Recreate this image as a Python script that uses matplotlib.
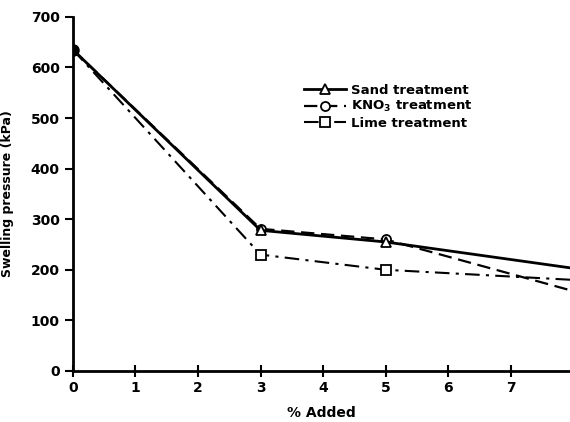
import matplotlib
matplotlib.use("Agg")
import matplotlib.pyplot as plt

# values
pct_added = [0, 3, 5, 8]
sand = [635, 278, 255, 203]
kno3 = [635, 281, 260, 158]
lime = [635, 230, 200, 180]

plt.rcParams['font.family'] = ['DejaVu Sans']
plt.rcParams['font.weight'] = 'bold'

fig = plt.figure(figsize=(5.7, 4.22), dpi=100)
ax = fig.add_axes([0.128, 0.121, 0.872, 0.839])

mk = dict(markersize=6.5, markerfacecolor='white', markeredgecolor='black',
          markeredgewidth=1.3, markevery=[1, 2])
ax.plot(pct_added, sand, '-', color='black', lw=2, marker='^',
        label='Sand treatment', zorder=4, **mk)
ax.plot(pct_added, kno3, color='black', lw=1.6, ls=(0, (6, 3)), marker='o',
        label='KNO$_3$ treatment', zorder=3, **mk)
ax.plot(pct_added, lime, color='black', lw=1.5, ls=(0, (7, 3, 1.5, 3)), marker='s',
        label='Lime treatment', zorder=3, **mk)
ax.plot(pct_added[0], sand[0], 'o', color='black', markersize=8, zorder=5)

ax.set_xlim(0, 7.95)
ax.set_ylim(0, 700)
ax.set_xticks(range(0, 8))
ax.set_yticks(range(0, 701, 100))

for s in ['top', 'right']:
    ax.spines[s].set_visible(False)
for s in ['left', 'bottom']:
    ax.spines[s].set_linewidth(2)
ax.tick_params(axis='both', width=1.5, length=6, labelsize=10)
ax.tick_params(axis='x', direction='inout', length=8)

ax.set_xlabel('% Added', fontsize=10, fontweight='bold', labelpad=8)
ax.set_ylabel('Swelling pressure (kPa)', fontsize=9, fontweight='bold', labelpad=12)

leg = ax.legend(loc='upper left', bbox_to_anchor=(0.44, 0.845), frameon=False,
                fontsize=9.5, handlelength=3.2, labelspacing=0.2, handletextpad=0.4)

fig.savefig('out.png', dpi=100)
